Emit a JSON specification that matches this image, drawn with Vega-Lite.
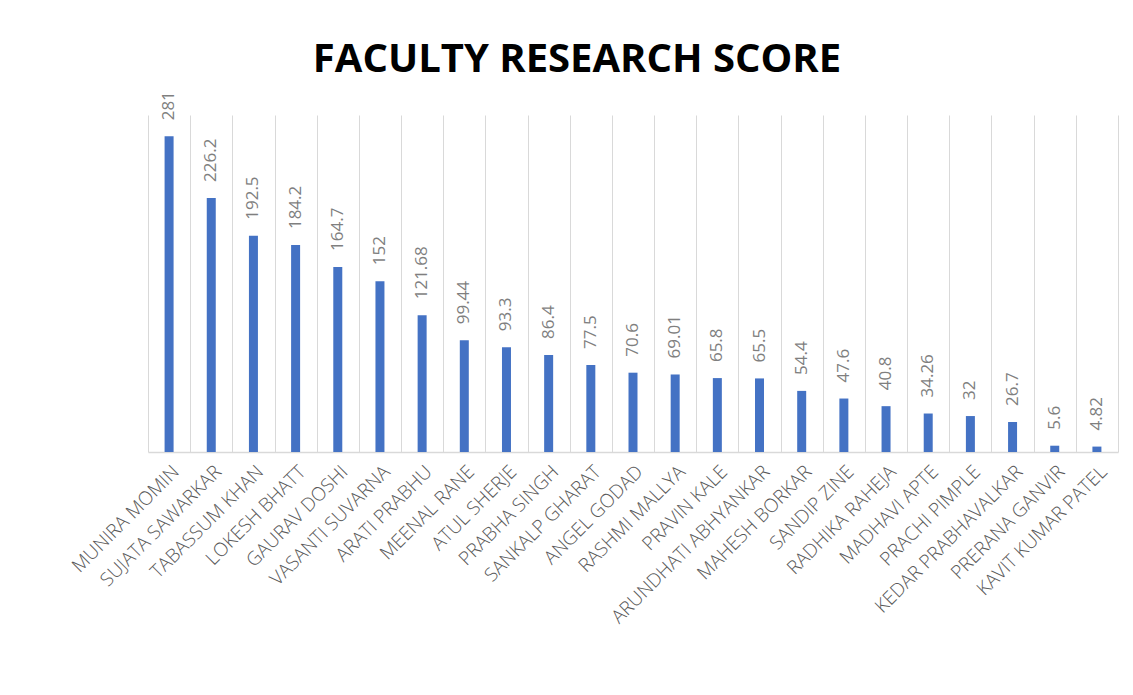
{
  "$schema": "https://vega.github.io/schema/vega-lite/v6.json",
  "autosize": {"type": "none"},
  "width": 970,
  "height": 337,
  "padding": {"left": 148, "top": 115, "right": 15, "bottom": 243},
  "background": "white",
  "title": {
    "text": "FACULTY RESEARCH SCORE",
    "font": "Open Sans",
    "fontSize": 40,
    "fontWeight": "bold",
    "color": "#000000",
    "anchor": "middle",
    "frame": "group",
    "baseline": "alphabetic",
    "offset": 43,
    "dx": -56,
    "dy": 64
  },
  "data": {
    "values": [
      {"name": "MUNIRA MOMIN", "score": 281},
      {"name": "SUJATA SAWARKAR", "score": 226.2},
      {"name": "TABASSUM KHAN", "score": 192.5},
      {"name": "LOKESH BHATT", "score": 184.2},
      {"name": "GAURAV DOSHI", "score": 164.7},
      {"name": "VASANTI SUVARNA", "score": 152},
      {"name": "ARATI PRABHU", "score": 121.68},
      {"name": "MEENAL RANE", "score": 99.44},
      {"name": "ATUL SHERJE", "score": 93.3},
      {"name": "PRABHA SINGH", "score": 86.4},
      {"name": "SANKALP GHARAT", "score": 77.5},
      {"name": "ANGEL GODAD", "score": 70.6},
      {"name": "RASHMI MALLYA", "score": 69.01},
      {"name": "PRAVIN KALE", "score": 65.8},
      {"name": "ARUNDHATI ABHYANKAR", "score": 65.5},
      {"name": "MAHESH BORKAR", "score": 54.4},
      {"name": "SANDIP ZINE", "score": 47.6},
      {"name": "RADHIKA RAHEJA", "score": 40.8},
      {"name": "MADHAVI APTE", "score": 34.26},
      {"name": "PRACHI PIMPLE", "score": 32},
      {"name": "KEDAR PRABHAVALKAR", "score": 26.7},
      {"name": "PRERANA GANVIR", "score": 5.6},
      {"name": "KAVIT KUMAR PATEL", "score": 4.82}
    ]
  },
  "encoding": {
    "x": {
      "field": "name",
      "type": "nominal",
      "sort": null,
      "scale": {"paddingInner": 0, "paddingOuter": 0},
      "axis": {
        "title": null,
        "grid": true,
        "gridColor": "#d9d9d9",
        "gridWidth": 1,
        "tickBand": "extent",
        "ticks": false,
        "domain": true,
        "domainColor": "#d9d9d9",
        "domainWidth": 1.5,
        "labelAngle": -45,
        "labelAlign": "right",
        "labelBaseline": "top",
        "labelPadding": 10,
        "labelFont": "Open Sans",
        "labelFontSize": 19,
        "labelFontWeight": 300,
        "labelColor": "#595959",
        "labelLimit": 400
      }
    },
    "y": {
      "field": "score",
      "type": "quantitative",
      "scale": {"domain": [0, 300], "nice": false},
      "axis": null
    }
  },
  "layer": [
    {
      "mark": {"type": "bar", "width": 9, "color": "#4472C4"}
    },
    {
      "mark": {
        "type": "text",
        "angle": 270,
        "align": "left",
        "baseline": "middle",
        "dx": 16,
        "font": "Open Sans",
        "fontSize": 17,
        "color": "#7f7f7f"
      },
      "encoding": {
        "text": {"field": "score", "type": "nominal"}
      }
    }
  ],
  "config": {
    "view": {"stroke": null}
  }
}
